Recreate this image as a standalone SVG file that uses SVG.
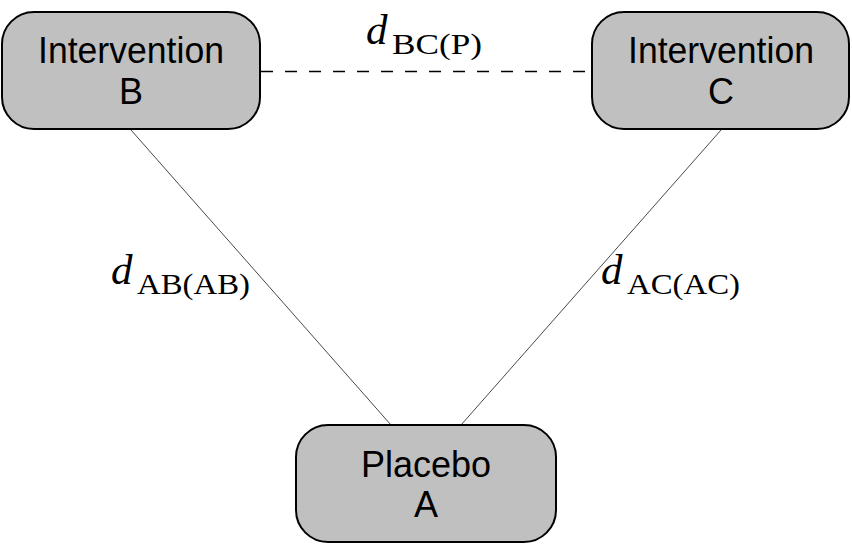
<svg xmlns="http://www.w3.org/2000/svg" width="852" height="545" viewBox="0 0 852 545">
<style>
.node rect{fill:#c0c0c0;stroke:#000;stroke-width:2}
.node text{font-family:"Liberation Sans","DejaVu Sans",sans-serif;font-size:36px;text-anchor:middle;fill:#000}
.edge{stroke:#333;stroke-width:0.9;fill:none}
.dash{stroke:#000;stroke-width:1.3;stroke-dasharray:12 12;fill:none}
.mi{font-family:"Liberation Serif","DejaVu Serif",serif;font-style:italic;font-size:43px;fill:#000}
.sub{font-family:"Liberation Serif","DejaVu Serif",serif;font-size:29px;fill:#000}
</style>
<rect width="852" height="545" fill="#fff"/>
<g id="connectors">
<line class="edge" x1="131" y1="130" x2="391" y2="425"/>
<line class="edge" x1="721" y1="130" x2="461" y2="425"/>
<line class="dash" x1="261" y1="71.5" x2="592" y2="71.5"/>
</g>
<g id="labels">
<text class="mi" x="111" y="284">d</text><text class="sub" x="137" y="294" textLength="113" lengthAdjust="spacingAndGlyphs">AB(AB)</text>
<text class="mi" x="601" y="284">d</text><text class="sub" x="627" y="294" textLength="113" lengthAdjust="spacingAndGlyphs">AC(AC)</text>
<text class="mi" x="366" y="44">d</text><text class="sub" x="392" y="54" textLength="90" lengthAdjust="spacingAndGlyphs">BC(P)</text>
</g>
<g id="nodeB" class="node">
<rect x="2" y="12" width="258" height="117" rx="32" ry="32"/>
<text x="131" y="63" textLength="186" lengthAdjust="spacingAndGlyphs">Intervention</text>
<text x="131" y="104">B</text>
</g>
<g id="nodeC" class="node">
<rect x="592" y="12" width="257" height="117" rx="32" ry="32"/>
<text x="721" y="63" textLength="186" lengthAdjust="spacingAndGlyphs">Intervention</text>
<text x="721" y="104">C</text>
</g>
<g id="nodeA" class="node">
<rect x="296" y="425" width="260" height="117" rx="32" ry="32"/>
<text x="426" y="477">Placebo</text>
<text x="426" y="517">A</text>
</g>
</svg>
